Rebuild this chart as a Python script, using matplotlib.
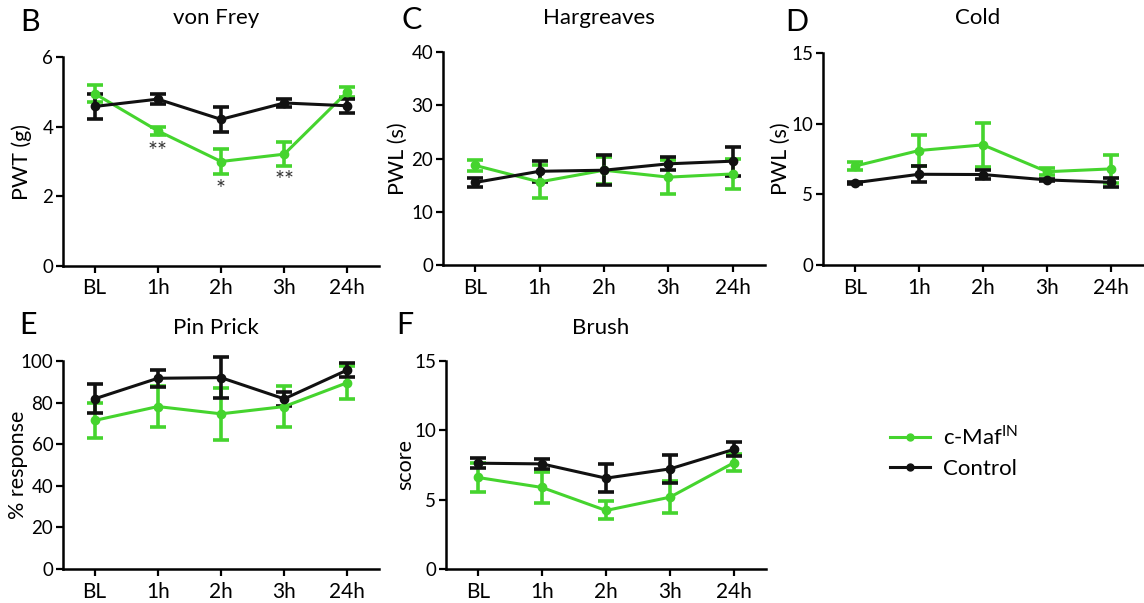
import matplotlib
matplotlib.use("Agg")
import matplotlib.pyplot as plt
from matplotlib.lines import Line2D

plt.rcParams["font.family"] = ["Lato", "DejaVu Sans"]
plt.rcParams["mathtext.fontset"] = "custom"
plt.rcParams["mathtext.rm"] = "Lato"

GREEN = "#45d42e"
BLACK = "#111111"

timepoints = ["BL", "1h", "2h", "3h", "24h"]

# von Frey (PWT, g)
vf_cmaf = [4.95, 3.88, 3.0, 3.21, 5.0]
vf_cmaf_err = [0.25, 0.12, 0.35, 0.35, 0.15]
vf_ctrl = [4.58, 4.79, 4.21, 4.68, 4.6]
vf_ctrl_err = [0.37, 0.15, 0.35, 0.12, 0.2]
vf_stars = ["**", "*", "**"]
vf_star_x = [1, 2, 3]
vf_star_y = [3.3, 2.2, 2.46]

# Hargreaves (PWL, s)
hg_cmaf = [18.7, 15.6, 17.8, 16.5, 17.1]
hg_cmaf_err = [1.0, 3.1, 2.5, 3.2, 2.8]
hg_ctrl = [15.5, 17.6, 17.8, 19.0, 19.5]
hg_ctrl_err = [0.8, 2.0, 2.8, 1.2, 2.7]

# Cold (PWL, s)
cd_cmaf = [7.0, 8.1, 8.5, 6.6, 6.8]
cd_cmaf_err = [0.3, 1.1, 1.55, 0.25, 1.0]
cd_ctrl = [5.82, 6.42, 6.4, 6.02, 5.85]
cd_ctrl_err = [0.08, 0.55, 0.3, 0.08, 0.3]

# Pin Prick (% response)
pp_cmaf = [71.4, 78.1, 74.6, 78.1, 89.6]
pp_cmaf_err = [8.5, 10.0, 12.5, 10.0, 8.0]
pp_ctrl = [81.8, 91.7, 92.0, 81.8, 95.7]
pp_ctrl_err = [7.0, 4.0, 10.0, 3.5, 3.5]

# Brush (score)
br_cmaf = [6.6, 5.88, 4.22, 5.18, 7.67]
br_cmaf_err = [1.05, 1.15, 0.65, 1.15, 0.6]
br_ctrl = [7.63, 7.58, 6.55, 7.22, 8.63]
br_ctrl_err = [0.35, 0.35, 1.0, 1.0, 0.5]

W, H = 1144, 603
fig = plt.figure(figsize=(W / 100, H / 100), dpi=100)


def px_axes(left, top, right, bottom):
    return fig.add_axes([left / W, 1 - bottom / H, (right - left) / W, (bottom - top) / H])


def panel(box, cmaf, cmaf_err, ctrl, ctrl_err, ymax, yticks, ylabel, title, letter,
          letter_xy, title_y, ylab_x):
    ax = px_axes(*box)
    x = list(range(len(timepoints)))
    for y, e, c in [(cmaf, cmaf_err, GREEN), (ctrl, ctrl_err, BLACK)]:
        ax.errorbar(x, y, yerr=e, color=c, lw=2.2, marker="o", ms=6,
                    elinewidth=2.6, capsize=5.5, capthick=2.6, clip_on=False, zorder=3)
    ax.set_xlim(-0.5, 4.5)
    ax.set_ylim(0, ymax)
    ax.set_yticks(yticks)
    ax.set_xticks(x)
    ax.set_xticklabels(timepoints)
    for s in ["top", "right"]:
        ax.spines[s].set_visible(False)
    for s in ["left", "bottom"]:
        ax.spines[s].set_linewidth(1.8)
    ax.tick_params(direction="out", length=5, width=1.6, labelsize=13.5, pad=2)
    ax.tick_params(axis="x", labelsize=15, pad=4)
    ax.set_ylabel(ylabel, fontsize=15.5, va="center")
    left, top, right, bottom = box
    ax.yaxis.set_label_coords((ylab_x - left) / (right - left), 0.5)
    fig.text(((left + right) / 2 - 5) / W, 1 - title_y / H, title, ha="center", va="center", fontsize=16)
    fig.text(letter_xy[0] / W, 1 - letter_xy[1] / H, letter, ha="center", va="center", fontsize=22)
    return ax


ax_b = panel((63, 57, 379, 266), vf_cmaf, vf_cmaf_err, vf_ctrl, vf_ctrl_err,
             6, [0, 2, 4, 6], "PWT (g)", "von Frey", "B", (30, 22), 18, 22)
for sx, sy, st in zip(vf_star_x, vf_star_y, vf_stars):
    ax_b.text(sx, sy, st, ha="center", va="center", fontsize=17, color="#333333")

panel((443, 52, 765, 265), hg_cmaf, hg_cmaf_err, hg_ctrl, hg_ctrl_err,
      40, [0, 10, 20, 30, 40], "PWL (s)", "Hargreaves", "C", (412, 20), 18, 398)
panel((823, 53, 1143, 265), cd_cmaf, cd_cmaf_err, cd_ctrl, cd_ctrl_err,
      15, [0, 5, 10, 15], "PWL (s)", "Cold", "D", (797, 22), 18, 781)
panel((63, 361, 379, 569), pp_cmaf, pp_cmaf_err, pp_ctrl, pp_ctrl_err,
      100, [0, 20, 40, 60, 80, 100], "% response", "Pin Prick", "E", (28, 325), 328, 18)
panel((446, 361, 766, 569), br_cmaf, br_cmaf_err, br_ctrl, br_ctrl_err,
      15, [0, 5, 10, 15], "score", "Brush", "F", (405, 325), 328, 405)

handles = [
    Line2D([], [], color=GREEN, lw=2.2, marker="o", ms=5),
    Line2D([], [], color=BLACK, lw=2.2, marker="o", ms=5),
]
fig.legend(handles, ["c-Maf$^{\\mathrm{IN}}$", "Control"], loc="center left",
           bbox_to_anchor=(870 / W, 1 - 452 / H), frameon=False, fontsize=16,
           handlelength=1.8, handletextpad=0.6, labelspacing=0.45)

fig.savefig("out.png", dpi=100)
